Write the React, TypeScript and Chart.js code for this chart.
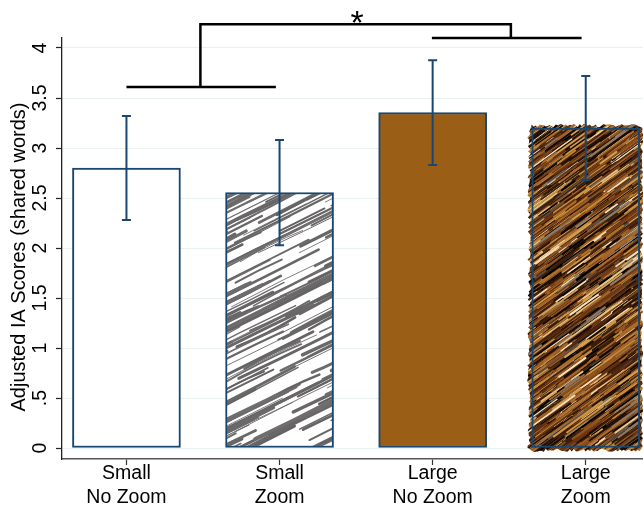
import React, { useEffect, useRef } from 'react';
import { Chart, registerables } from 'chart.js';

Chart.register(...registerables);

// ---- data ----
const categories: string[][] = [
  ['Small', 'No Zoom'],
  ['Small', 'Zoom'],
  ['Large', 'No Zoom'],
  ['Large', 'Zoom'],
];
const positions = [1, 2, 3, 4];
const means = [2.8, 2.555, 3.355, 3.2];
const ciUpper = [3.32, 3.08, 3.877, 3.72];
const ciLower = [2.28, 2.027, 2.83, 2.68];
const yTickValues = [0, 0.5, 1, 1.5, 2, 2.5, 3, 3.5, 4];
const yTickLabels = ['0', '.5', '1', '1.5', '2', '2.5', '3', '3.5', '4'];
const yTitle = 'Adjusted IA Scores (shared words)';
// significance bracket, in data units
const leftPairX = [1, 1.976];
const leftPairY = 3.61;
const rightPairX = [2.995, 3.973];
const rightPairY = 4.1;
const linkX = [1.483, 3.511];
const linkY = 4.237;
const starText = '*';
const starPos = [2.506, 4.315];

const FONT = "'Liberation Sans', Arial, Helvetica, sans-serif";
const NAVY = '#1a476f';

function prng(seed: number) {
  let a = seed;
  return () => {
    a |= 0;
    a = (a + 0x6d2b79f5) | 0;
    let t = Math.imul(a ^ (a >>> 15), 1 | a);
    t = (t + Math.imul(t ^ (t >>> 7), 61 | t)) ^ t;
    return ((t ^ (t >>> 14)) >>> 0) / 4294967296;
  };
}

function grayHatch(w: number, h: number) {
  const c = document.createElement('canvas');
  c.width = w;
  c.height = h;
  const g = c.getContext('2d')!;
  g.fillStyle = '#ffffff';
  g.fillRect(0, 0, w, h);
  const r = prng(7);
  const slope = 0.5;
  const n = Math.hypot(1, slope);
  const dx = 1 / n, dy = -slope / n;
  g.lineCap = 'round';
  for (let i = 0; i < 1150; i++) {
    const x = r() * (w + 120) - 120;
    const y = r() * (h + 80) - 10;
    const len = 50 + r() * 150;
    const bend = (r() - 0.5) * 6;
    const v = 100 + Math.floor(r() * 12);
    g.strokeStyle = `rgb(${v},${v - 2},${v - 2})`;
    g.lineWidth = 0.8 + r() * 2.8;
    g.beginPath();
    g.moveTo(x, y);
    const mx = x + dx * len * 0.5 - dy * bend;
    const my = y + dy * len * 0.5 + dx * bend;
    g.quadraticCurveTo(mx, my, x + dx * len, y + dy * len);
    g.stroke();
  }
  return c;
}

function brownHatch(w: number, h: number) {
  const c = document.createElement('canvas');
  c.width = w;
  c.height = h;
  const g = c.getContext('2d')!;
  g.fillStyle = '#3a1e0a';
  g.fillRect(0, 0, w, h);
  const r = prng(19);
  const palette = ['#120804', '#241208', '#3d1f0b', '#5a2e10', '#6e3512', '#7a3c14', '#8c4e1c', '#9c5e22', '#a8662a', '#b0702c', '#c4882f', '#cf9440', '#d4a050', '#e6c488', '#f2e0bc', '#5e4a3a', '#8a7a68', '#000000', '#1a0c04', '#4a2410', '#8f5422'];
  const slope = 0.72;
  const n = Math.hypot(1, slope);
  const dx = 1 / n, dy = -slope / n;
  g.lineCap = 'round';
  for (let i = 0; i < 14000; i++) {
    const x = r() * (w + 60) - 60;
    const y = r() * (h + 60);
    const len = 12 + r() * 55;
    g.strokeStyle = palette[Math.floor(r() * palette.length)];
    g.lineWidth = 0.8 + r() * 1.6;
    g.beginPath();
    g.moveTo(x, y);
    g.lineTo(x + dx * len, y + dy * len);
    g.stroke();
  }
  return c;
}

export default function App() {
  const ref = useRef<HTMLCanvasElement | null>(null);

  useEffect(() => {
    document.body.style.margin = '0';
    const canvas = ref.current!;
    const ctx0 = canvas.getContext('2d')!;
    const p2 = ctx0.createPattern(grayHatch(643, 507), 'no-repeat')!;
    const p4 = ctx0.createPattern(brownHatch(643, 507), 'no-repeat')!;

    const overlay = {
      id: 'overlay',
      beforeDatasetsDraw(chart: any) {
        // ragged scribble edge around the last bar
        const el = chart.getDatasetMeta(0).data[3];
        if (!el) return;
        const ctx = chart.ctx;
        const left = el.x - el.width / 2, right = el.x + el.width / 2;
        const top = el.y, bottom = el.base;
        const r = prng(3);
        ctx.save();
        ctx.fillStyle = p4;
        ctx.beginPath();
        const pts: number[][] = [];
        for (let x = left; x < right; x += 2) pts.push([x, top - 1 - r() * 3.5]);
        for (let y = top; y < bottom; y += 2) pts.push([right + 1 + r() * 2.5, y]);
        for (let x = right; x > left; x -= 2) pts.push([x, bottom + 1 + r() * 3.5]);
        for (let y = bottom; y > top; y -= 2) pts.push([left - 1 - r() * 3.5, y]);
        pts.forEach((p, i) => (i ? ctx.lineTo(p[0], p[1]) : ctx.moveTo(p[0], p[1])));
        ctx.closePath();
        ctx.fill();
        ctx.restore();
      },
      afterDatasetsDraw(chart: any) {
        const ctx = chart.ctx;
        const xs = chart.scales.x, ys = chart.scales.y;
        ctx.save();
        ctx.strokeStyle = NAVY;
        ctx.lineWidth = 2;
        positions.forEach((p, i) => {
          const x = xs.getPixelForValue(p);
          const yt = ys.getPixelForValue(ciUpper[i]);
          const yb = ys.getPixelForValue(ciLower[i]);
          ctx.beginPath();
          ctx.moveTo(x, yt);
          ctx.lineTo(x, yb);
          ctx.moveTo(x - 4.5, yt);
          ctx.lineTo(x + 4.5, yt);
          ctx.moveTo(x - 4.5, yb);
          ctx.lineTo(x + 4.5, yb);
          ctx.stroke();
        });
        ctx.restore();
      },
      afterDraw(chart: any) {
        const ctx = chart.ctx;
        const xs = chart.scales.x, ys = chart.scales.y;
        const X = (v: number) => xs.getPixelForValue(v);
        const Y = (v: number) => ys.getPixelForValue(v);
        ctx.save();
        // y tick labels (rotated)
        ctx.fillStyle = '#000';
        ctx.font = `19.5px ${FONT}`;
        ctx.textAlign = 'center';
        ctx.textBaseline = 'middle';
        yTickValues.forEach((v, i) => {
          ctx.save();
          ctx.translate(40, Y(v));
          ctx.rotate(-Math.PI / 2);
          ctx.fillText(yTickLabels[i], 0, 1);
          ctx.restore();
        });
        // y title
        ctx.save();
        ctx.font = `20px ${FONT}`;
        ctx.translate(19.5, 257);
        ctx.rotate(-Math.PI / 2);
        ctx.fillText(yTitle, 0, 0);
        ctx.restore();
        // brackets
        ctx.strokeStyle = '#000';
        ctx.lineWidth = 2.5;
        ctx.beginPath();
        ctx.moveTo(X(leftPairX[0]), Y(leftPairY));
        ctx.lineTo(X(leftPairX[1]), Y(leftPairY));
        ctx.moveTo(X(rightPairX[0]), Y(rightPairY));
        ctx.lineTo(X(rightPairX[1]), Y(rightPairY));
        ctx.moveTo(X(linkX[0]), Y(leftPairY));
        ctx.lineTo(X(linkX[0]), Y(linkY));
        ctx.lineTo(X(linkX[1]), Y(linkY));
        ctx.lineTo(X(linkX[1]), Y(rightPairY));
        ctx.stroke();
        // star
        ctx.font = `34px ${FONT}`;
        ctx.textBaseline = 'alphabetic';
        const m = ctx.measureText(starText);
        const cy = Y(starPos[1]);
        const base = cy + (m.actualBoundingBoxAscent - m.actualBoundingBoxDescent) / 2;
        ctx.fillText(starText, X(starPos[0]), base);
        ctx.restore();
      },
    };

    const chart = new Chart(canvas, {
      type: 'bar',
      data: {
        datasets: [
          {
            data: positions.map((p, i) => ({ x: p, y: means[i] })),
            backgroundColor: ['#ffffff', p2 as any, '#9b5e17', p4 as any],
            borderColor: NAVY,
            borderWidth: 2,
            borderSkipped: false,
            barThickness: 108,
          } as any,
        ],
      },
      options: {
        animation: false,
        responsive: false,
        devicePixelRatio: 1,
        layout: { padding: { top: 38, left: 0, right: 0, bottom: 0 } },
        plugins: { legend: { display: false }, tooltip: { enabled: false }, title: { display: false } },
        scales: {
          x: {
            type: 'linear',
            offset: false,
            min: 0.579,
            max: 4.374,
            afterBuildTicks: (s: any) => {
              s.ticks = positions.map((v) => ({ value: v }));
            },
            afterFit: (s: any) => {
              s.height = 48;
            },
            ticks: {
              callback: (_v: any, i: number) => categories[i],
              color: '#000',
              font: { family: FONT, size: 19.5, lineHeight: 1.23 },
              padding: -3,
              maxRotation: 0,
              minRotation: 0,
              autoSkip: false,
            },
            grid: { display: true, offset: false, drawOnChartArea: false, drawTicks: true, tickLength: 6, tickColor: '#333', tickWidth: 1.2 },
            border: { display: true, color: '#555', width: 1.5 },
          },
          y: {
            type: 'linear',
            min: -0.11,
            max: 4.1,
            afterBuildTicks: (s: any) => {
              s.ticks = yTickValues.map((v) => ({ value: v }));
            },
            afterFit: (s: any) => {
              s.width = 62;
            },
            ticks: { display: false },
            grid: { display: true, color: '#e8f0f2', lineWidth: 1, drawTicks: true, tickLength: 6, tickColor: '#222', tickWidth: 1.2 },
            border: { display: true, color: '#222', width: 1.3 },
          },
        },
      } as any,
      plugins: [overlay],
    });
    return () => chart.destroy();
  }, []);

  return <canvas ref={ref} width={643} height={507} style={{ display: 'block' }} />;
}
